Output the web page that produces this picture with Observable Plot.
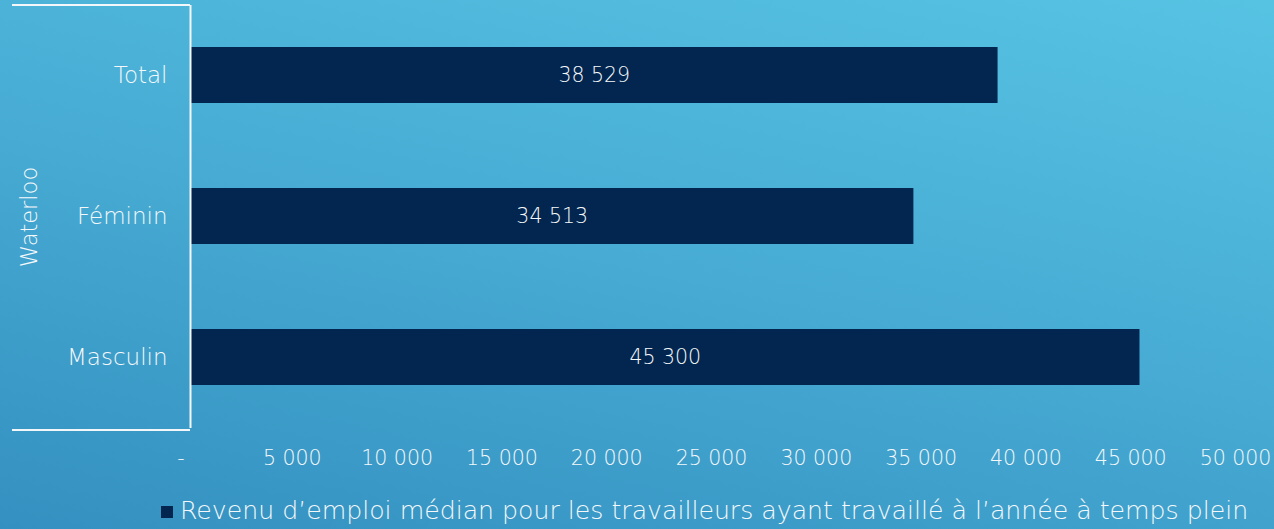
<!DOCTYPE html>
<html>
<head>
<meta charset="utf-8">
<script src="https://cdn.jsdelivr.net/npm/d3@7"></script>
<script src="https://cdn.jsdelivr.net/npm/@observablehq/plot@0.6"></script>
<style>
  html, body { margin: 0; padding: 0; }
  body {
    width: 1274px; height: 529px; overflow: hidden; position: relative;
    background: linear-gradient(192deg, #57c3e3 0%, #47abd3 50%, #3490c0 100%);
    font-family: "DejaVu Sans", Lato, sans-serif; font-weight: 200;
  }
  #chart svg { display: block; background: transparent; }
  #bracket {
    position: absolute; left: 12px; top: 4px; width: 178px; height: 423px;
    border-top: 2px solid #f4f7fa; border-bottom: 2px solid #f4f7fa;
  }
  #legend {
    position: absolute; left: 161px; top: 496px; text-align: left;
    color: #f5f8fa; font-size: 25.2px; line-height: 30px; white-space: nowrap;
  }
  #legend .sw { display: inline-block; width: 12px; height: 12px; background: #02264f; margin-right: 7px; vertical-align: 1px; }
</style>
</head>
<body>
<div id="chart"></div>
<div id="bracket"></div>
<div id="legend"></div>
<script>
const categories = ["Total", "Féminin", "Masculin"];
const values = [38529, 34513, 45300];
const group = "Waterloo";
const tickValues = [0, 5000, 10000, 15000, 20000, 25000, 30000, 35000, 40000, 45000, 50000];
const seriesName = "Revenu d’emploi médian pour les travailleurs ayant travaillé à l’année à temps plein";

const data = categories.map((c, i) => ({cat: c, value: values[i]}));
const fmt = v => v === 0 ? "-\u00a0\u00a0" : d3.format(",")(v).replace(/,/g, " ");

const textColor = "#f5f8fa";
const chart = Plot.plot({
  width: 1274,
  height: 492,
  marginLeft: 190,
  marginRight: 36,
  marginTop: 5,
  marginBottom: 64,
  style: {fontFamily: "'DejaVu Sans', Lato, sans-serif", fontWeight: 200, background: "transparent", color: textColor},
  x: {domain: [0, 50000], axis: null},
  y: {domain: categories, paddingInner: 0.6, paddingOuter: 0.3, axis: null},
  marks: [
    Plot.barX(data, {x: "value", y: "cat", fill: "#02264f", insetLeft: 1}),
    Plot.text(data, {x: d => d.value / 2, y: "cat", text: d => fmt(d.value), fill: textColor, fontSize: 20.5}),
    Plot.axisY({label: null, tickSize: 0, tickPadding: 23, fontSize: 23, fill: textColor, textAnchor: "end"}),
    Plot.axisX({label: null, ticks: tickValues, tickFormat: fmt, tickSize: 0, tickPadding: 22, fontSize: 20.5, fill: textColor, dx: -3}),
    Plot.ruleX([0], {stroke: "#f4f7fa", strokeWidth: 2}),
    Plot.text([group], {frameAnchor: "left", dx: -161, rotate: -90, textAnchor: "middle", text: d => d, fill: textColor, fontSize: 22.5})
  ]
});
document.getElementById("chart").appendChild(chart);
document.getElementById("legend").innerHTML = '<span class="sw"></span>' + seriesName;
</script>
</body>
</html>
